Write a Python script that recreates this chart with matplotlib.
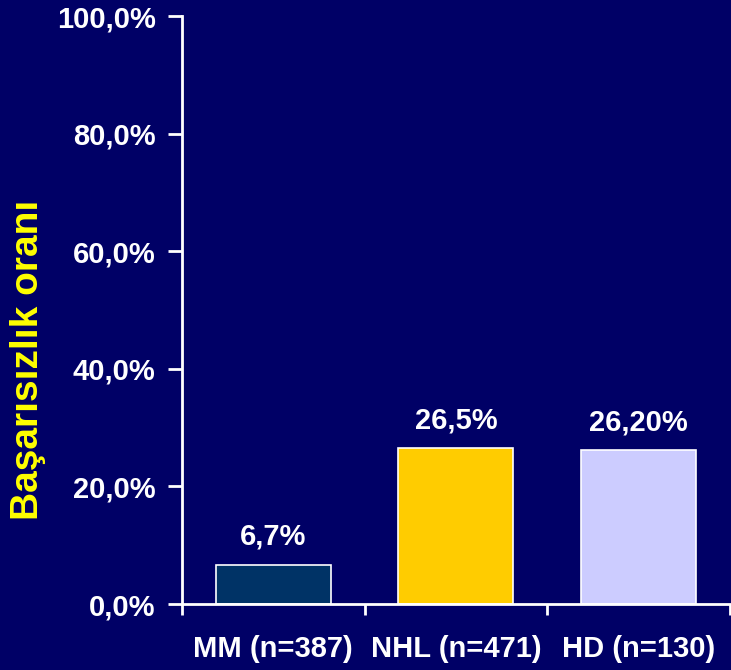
import matplotlib
matplotlib.use("Agg")
import matplotlib.pyplot as plt
from matplotlib.ticker import FuncFormatter

categories = ["MM (n=387)", "NHL (n=471)", "HD (n=130)"]
values = [6.7, 26.5, 26.2]
value_labels = ["6,7%", "26,5%", "26,20%"]
bar_colors = ["#003366", "#FFCC00", "#CCCCFF"]
y_ticks = [0, 20, 40, 60, 80, 100]
y_label = "Başarısızlık oranı"

bg = "#000066"
font = "Liberation Sans"

fig = plt.figure(figsize=(7.31, 6.70), dpi=100, facecolor=bg)
ax = fig.add_axes([0.249, 0.0985, 0.7495, 0.8775], facecolor=bg)

x = range(len(categories))
bars = ax.bar(x, values, width=0.63, color=bar_colors, edgecolor="white", linewidth=1.2)

for rect, lab in zip(bars, value_labels):
    ax.annotate(lab, (rect.get_x() + rect.get_width() / 2, rect.get_height()),
                xytext=(0, 10), textcoords="offset points", ha="center", va="bottom",
                color="white", fontsize=21, fontweight="bold", family=font)

ax.set_xlim(-0.5, 2.5)
ax.set_ylim(0, 100)
ax.set_yticks(y_ticks)
ax.yaxis.set_major_formatter(FuncFormatter(lambda v, p: f"{v:.1f}".replace(".", ",") + "%"))

# category labels centred under bars, tick marks on category boundaries
ax.set_xticks([i - 0.5 for i in range(len(categories) + 1)])
ax.set_xticklabels([])
ax.set_xticks(list(x), minor=True)
ax.set_xticklabels(categories, minor=True)
ax.tick_params(axis="x", which="minor", length=0, pad=22, labelsize=21, labelcolor="white")
ax.tick_params(axis="x", which="major", length=8, width=2, color="white", direction="out")
ax.tick_params(axis="y", length=10, width=2, color="white", pad=9, labelsize=21, labelcolor="white")
for lab in ax.get_xticklabels(minor=True) + ax.get_yticklabels():
    lab.set_fontweight("bold")
    lab.set_family(font)

for side in ["top", "right"]:
    ax.spines[side].set_visible(False)
for side in ["left", "bottom"]:
    ax.spines[side].set_color("white")
    ax.spines[side].set_linewidth(2)

ax.set_ylabel(y_label, color="#FFFF00", fontsize=28, fontweight="bold", family=font)
ax.yaxis.set_label_coords(-0.281, 0.415)
ax.yaxis.label.set_verticalalignment("center")

fig.savefig("out.png", dpi=100, facecolor=bg)
